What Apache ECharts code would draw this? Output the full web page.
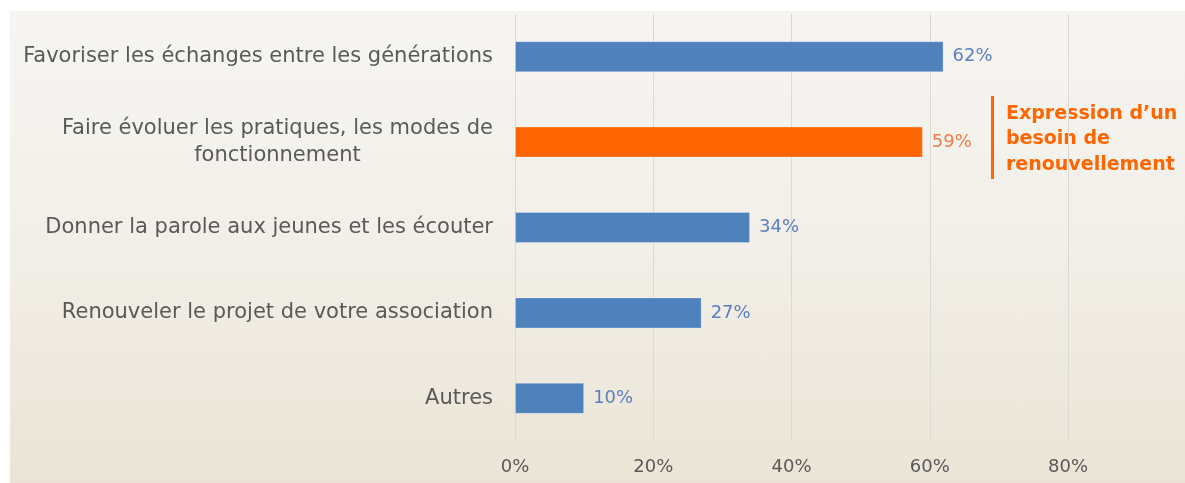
<!DOCTYPE html>
<html lang="fr">
<head>
  <meta charset="UTF-8">
  <title>Attentes – échanges entre générations</title>
  <style>
    * { margin: 0; padding: 0; }
    html, body { width: 1185px; height: 483px; background: #ffffff; overflow: hidden; }
    #chart-container {
      position: absolute;
      left: 10px;
      top: 11px;
      width: 1175px;
      height: 472px;
      background: linear-gradient(to bottom, #f6f5f2 0%, #f2efe8 50%, #ebe4d6 100%);
    }
  </style>
</head>
<body>
  <div id="chart-container"></div>

  <script src="https://cdn.jsdelivr.net/npm/echarts@6/dist/echarts.min.js"></script>
  <script>
    // données
    const categories = [
      'Favoriser les échanges entre les générations',
      'Faire évoluer les pratiques, les modes de\nfonctionnement',
      'Donner la parole aux jeunes et les écouter',
      'Renouveler le projet de votre association',
      'Autres'
    ];
    const values = [62, 59, 34, 27, 10];
    const highlighted = [false, true, false, false, false];
    const xTicks = [0, 20, 40, 60, 80];
    const noteLines = ['Expression d\u2019un', 'besoin de', 'renouvellement'];

    const BLUE = '#4f81bd';
    const ORANGE = '#ff6600';

    const dom = document.getElementById('chart-container');
    const myChart = echarts.init(dom, null, { renderer: 'canvas' });

    const seriesData = values.map((v, i) => ({
      value: v,
      itemStyle: { color: highlighted[i] ? ORANGE : BLUE },
      label: { color: highlighted[i] ? '#f07c4a' : '#5b7fbf' }
    }));

    const option = {
      backgroundColor: 'transparent',
      animation: false,
      grid: {
        left: 505, right: 117, top: 3, bottom: 42,
        containLabel: false,
        outerBoundsMode: 'none'
      },
      xAxis: {
        type: 'value',
        min: xTicks[0],
        max: xTicks[xTicks.length - 1],
        interval: 20,
        axisLine: { show: false },
        axisTick: { show: false },
        splitLine: { lineStyle: { color: '#dcd9d3', width: 1 } },
        axisLabel: {
          formatter: '{value}%',
          color: '#595959',
          fontFamily: 'DejaVu Sans',
          fontSize: 18,
          margin: 17
        }
      },
      yAxis: {
        type: 'category',
        data: categories,
        inverse: true,
        axisLine: { show: false },
        axisTick: { show: false },
        axisLabel: {
          margin: 22,
          color: '#595959',
          fontFamily: 'DejaVu Sans',
          fontSize: 21,
          lineHeight: 27,
          formatter: v => v.split('\n').map(l => '{c|' + l + '}').join('\n'),
          rich: {
            c: {
              align: 'center',
              color: '#595959',
              fontFamily: 'DejaVu Sans',
              fontSize: 21,
              lineHeight: 27
            }
          }
        }
      },
      series: [{
        type: 'bar',
        data: seriesData,
        barWidth: 31,
        itemStyle: { borderColor: 'rgba(255,255,255,0.25)', borderWidth: 1 },
        label: {
          show: true,
          position: 'right',
          distance: 9,
          formatter: '{c}%',
          fontFamily: 'DejaVu Sans',
          fontSize: 18
        }
      }],
      graphic: [
        {
          type: 'rect',
          shape: { x: 981, y: 85, width: 3, height: 83 },
          style: { fill: ORANGE }
        },
        {
          type: 'text',
          left: 996,
          top: 90,
          style: {
            text: noteLines.join('\n'),
            fill: ORANGE,
            font: 'bold 19px "DejaVu Sans"',
            lineHeight: 25.5
          }
        }
      ]
    };

    myChart.setOption(option);
    window.addEventListener('resize', () => myChart.resize());
  </script>
</body>
</html>
